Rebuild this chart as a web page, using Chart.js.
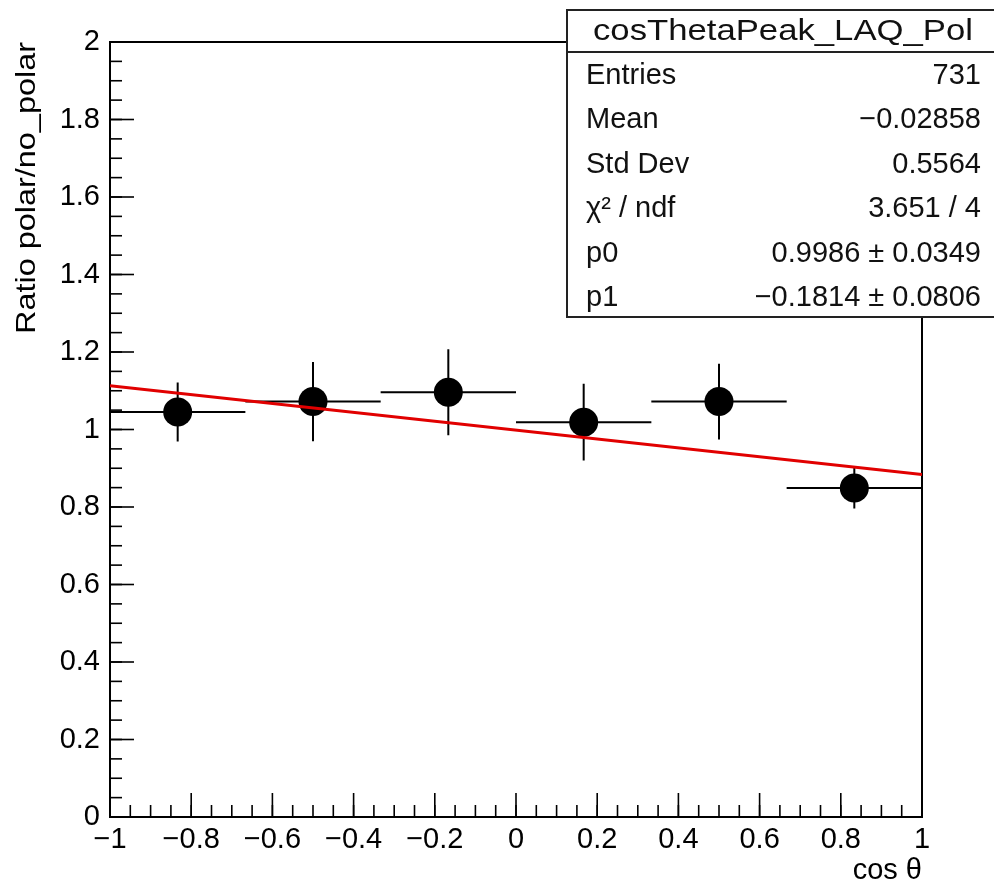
<!DOCTYPE html>
<html><head><meta charset="utf-8">
<script src="https://cdn.jsdelivr.net/npm/chart.js@4/dist/chart.umd.min.js"></script>
<style>html,body{margin:0;padding:0;background:#fff}#wrap{width:994px;height:885px;position:relative}canvas{display:block}</style>
</head><body><div id="wrap"><canvas id="c" width="994" height="885"></canvas></div>
<script>
// ---- data ----
const binCenters = [-0.8333, -0.5, -0.1667, 0.1667, 0.5, 0.8333];
const binHalfWidths = [0.1667, 0.1667, 0.1667, 0.1667, 0.1667, 0.1667];
const ratioValues = [1.045, 1.072, 1.096, 1.019, 1.072, 0.849];
const ratioErrors = [0.076, 0.102, 0.111, 0.099, 0.098, 0.053];
const fitX = [-1, 1];
const fitY = [1.113, 0.884];
const xTickValues = [-1, -0.8, -0.6, -0.4, -0.2, 0, 0.2, 0.4, 0.6, 0.8, 1];
const yTickValues = [0, 0.2, 0.4, 0.6, 0.8, 1, 1.2, 1.4, 1.6, 1.8, 2];
const minorStep = 0.05;
const xTitle = 'cos \u03b8';
const yTitle = 'Ratio polar/no_polar';
const statsTitle = 'cosThetaPeak_LAQ_Pol';
const statsLabels = ['Entries', 'Mean', 'Std Dev', '\u03c7\u00b2 / ndf', 'p0', 'p1'];
const statsValues = ['731', '\u22120.02858', '0.5564', '3.651 / 4', '0.9986 \u00b1 0.0349', '\u22120.1814 \u00b1 0.0806'];

const FONT = "'Liberation Sans', Arial, Helvetica, sans-serif";
const fmt = v => { const r = Math.round(v * 10) / 10; return (r < 0 ? '\u2212' : '') + String(Math.abs(r)); };

const hBars = [], vBars = [];
binCenters.forEach((c, i) => {
  hBars.push({x: c - binHalfWidths[i], y: ratioValues[i]}, {x: c + binHalfWidths[i], y: ratioValues[i]}, {x: c, y: null});
  vBars.push({x: c, y: ratioValues[i] - ratioErrors[i]}, {x: c, y: ratioValues[i] + ratioErrors[i]}, {x: c, y: null});
});
const points = binCenters.map((c, i) => ({x: c, y: ratioValues[i]}));
const fitLine = fitX.map((x, i) => ({x: x, y: fitY[i]}));

function stretchText(ctx, text, x, y, targetW) {
  const w = ctx.measureText(text).width;
  const sx = targetW ? targetW / w : 1;
  ctx.save(); ctx.translate(x, y); ctx.scale(sx, 1); ctx.fillText(text, 0, 0); ctx.restore();
}

const rootPlugin = {
  id: 'rootStyle',
  beforeDatasetsDraw(chart) {
    const {ctx, chartArea: a, scales: {x, y}} = chart;
    ctx.save();
    ctx.strokeStyle = '#000';
    ctx.lineWidth = 1.6;
    xTickValues.forEach(v => { const p = x.getPixelForValue(v); ctx.beginPath(); ctx.moveTo(p, a.bottom); ctx.lineTo(p, a.bottom - 24); ctx.stroke(); });
    for (let v = x.min; v <= x.max + 1e-9; v += minorStep) { const p = x.getPixelForValue(v); ctx.beginPath(); ctx.moveTo(p, a.bottom); ctx.lineTo(p, a.bottom - 12); ctx.stroke(); }
    yTickValues.forEach(v => { const p = y.getPixelForValue(v); ctx.beginPath(); ctx.moveTo(a.left, p); ctx.lineTo(a.left + 24, p); ctx.stroke(); });
    for (let v = y.min; v <= y.max + 1e-9; v += minorStep) { const p = y.getPixelForValue(v); ctx.beginPath(); ctx.moveTo(a.left, p); ctx.lineTo(a.left + 12, p); ctx.stroke(); }
    ctx.lineWidth = 2;
    ctx.strokeRect(a.left, a.top, a.right - a.left, a.bottom - a.top);
    ctx.restore();
  },
  afterDraw(chart) {
    const {ctx, chartArea: a} = chart;
    ctx.save();
    ctx.fillStyle = '#000';
    ctx.font = '29px ' + FONT;
    ctx.textAlign = 'right'; ctx.textBaseline = 'alphabetic';
    ctx.fillText(xTitle, a.right, 879);
    ctx.save();
    ctx.translate(35, a.top); ctx.rotate(-Math.PI / 2);
    ctx.textAlign = 'right';
    ctx.font = '28px ' + FONT;
    const tw = ctx.measureText(yTitle).width;
    ctx.scale(292 / tw, 1);
    ctx.fillText(yTitle, 0, 0);
    ctx.restore();
    // stats box
    const bx = 567, by = 10, bb = 317;
    ctx.fillStyle = '#fff';
    ctx.fillRect(bx, by, 440, bb - by);
    ctx.strokeStyle = '#222'; ctx.lineWidth = 2;
    ctx.strokeRect(bx, by, 440, bb - by);
    ctx.beginPath(); ctx.moveTo(bx, 52); ctx.lineTo(994, 52); ctx.stroke();
    ctx.fillStyle = '#111';
    ctx.font = '30px ' + FONT;
    ctx.textAlign = 'left'; ctx.textBaseline = 'alphabetic';
    stretchText(ctx, statsTitle, 783 - 190, 40, 380);
    ctx.font = '29px ' + FONT;
    statsLabels.forEach((lab, i) => {
      const yb = 84 + i * 44.4;
      ctx.textAlign = 'left';
      ctx.fillText(lab, 586, yb);
      ctx.textAlign = 'right';
      ctx.fillText(statsValues[i], 981, yb);
    });
    ctx.restore();
  }
};

new Chart(document.getElementById('c'), {
  type: 'scatter',
  data: {
    datasets: [
      {label: 'fit', data: fitLine, showLine: true, borderColor: 'rgb(225,0,0)', borderWidth: 3, pointRadius: 0, order: 0},
      {label: 'ratio', data: points, pointRadius: 14.5, pointHoverRadius: 14.5, backgroundColor: '#000', borderColor: '#000', borderWidth: 0, order: 1},
      {label: 'xerr', data: hBars, showLine: true, spanGaps: false, borderColor: '#000', borderWidth: 2, pointRadius: 0, order: 2},
      {label: 'yerr', data: vBars, showLine: true, spanGaps: false, borderColor: '#000', borderWidth: 2, pointRadius: 0, order: 2}
    ]
  },
  options: {
    responsive: false,
    animation: false,
    events: [],
    layout: {padding: {left: 0, top: 42, right: 72, bottom: 0}},
    plugins: {legend: {display: false}, tooltip: {enabled: false}},
    scales: {
      x: {
        type: 'linear', min: -1, max: 1,
        grid: {display: false, drawTicks: false},
        border: {display: false},
        afterBuildTicks: s => { s.ticks = xTickValues.map(v => ({value: v})); },
        afterFit: s => { s.height = 68; },
        ticks: {font: {family: FONT, size: 29}, color: '#000', padding: 6, maxRotation: 0, autoSkip: false, callback: v => fmt(v)}
      },
      y: {
        type: 'linear', min: 0, max: 2,
        grid: {display: false, drawTicks: false},
        border: {display: false},
        afterBuildTicks: s => { s.ticks = yTickValues.map(v => ({value: v})); },
        afterFit: s => { s.width = 110; },
        ticks: {font: {family: FONT, size: 29}, color: '#000', padding: 10, autoSkip: false, callback: v => fmt(v)}
      }
    }
  },
  plugins: [rootPlugin]
});
</script>
</body></html>
